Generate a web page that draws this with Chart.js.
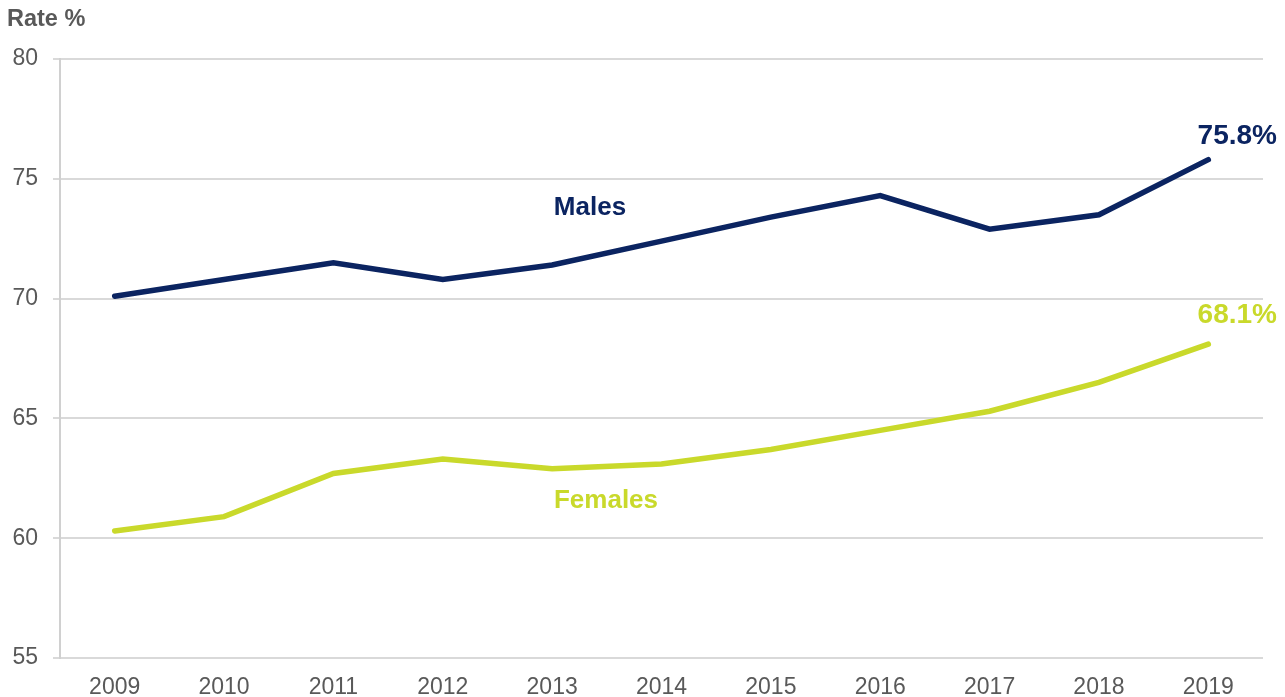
<!DOCTYPE html>
<html>
<head>
<meta charset="utf-8">
<script src="https://cdn.jsdelivr.net/npm/chart.js@4"></script>
<style>
html,body{margin:0;padding:0;background:#fff;}
#wrap{width:1285px;height:697px;position:relative;}
</style>
</head>
<body>
<div id="wrap"><canvas id="c" width="1285" height="697"></canvas></div>
<script>
const years = ['2009','2010','2011','2012','2013','2014','2015','2016','2017','2018','2019'];
const males = [70.1, 70.8, 71.5, 70.8, 71.4, 72.4, 73.4, 74.3, 72.9, 73.5, 75.8];
const females = [60.3, 60.9, 62.7, 63.3, 62.9, 63.1, 63.7, 64.5, 65.3, 66.5, 68.1];
const yTicks = [55, 60, 65, 70, 75, 80];

const NAVY = '#0b2461';
const LIME = '#c9d92b';
const GREY = '#595959';
const FONT = 'Arial, "Liberation Sans", sans-serif';

const annotate = {
  id: 'annotate',
  afterDatasetsDraw(chart) {
    const ctx = chart.ctx;
    const x = chart.scales.x, y = chart.scales.y;
    ctx.save();
    ctx.textBaseline = 'middle';
    ctx.textAlign = 'left';
    ctx.fillStyle = GREY;
    ctx.font = 'bold 23.5px ' + FONT;
    ctx.fillText('Rate %', 7, 20);

    ctx.textAlign = 'center';
    ctx.font = 'bold 26px ' + FONT;
    ctx.fillStyle = NAVY;
    ctx.fillText('Males', 590, 208);
    ctx.fillStyle = LIME;
    ctx.fillText('Females', 606, 501);

    const last = years.length - 1;
    ctx.font = 'bold 28px ' + FONT;
    ctx.fillStyle = NAVY;
    ctx.fillText(males[last].toFixed(1) + '%', x.getPixelForValue(last) + 29, y.getPixelForValue(males[last]) - 23);
    ctx.fillStyle = LIME;
    ctx.fillText(females[last].toFixed(1) + '%', x.getPixelForValue(last) + 29, y.getPixelForValue(females[last]) - 29);
    ctx.restore();
  }
};

new Chart(document.getElementById('c'), {
  type: 'line',
  data: {
    labels: years,
    datasets: [
      { label: 'Males', data: males, borderColor: NAVY, backgroundColor: NAVY, borderWidth: 5.5, pointRadius: 0, tension: 0, borderCapStyle: 'round' },
      { label: 'Females', data: females, borderColor: LIME, backgroundColor: LIME, borderWidth: 5.5, pointRadius: 0, tension: 0, borderCapStyle: 'round' }
    ]
  },
  options: {
    responsive: false,
    animation: false,
    layout: { padding: { left: 0, right: 22, top: 59, bottom: 0 } },
    plugins: { legend: { display: false }, tooltip: { enabled: false } },
    scales: {
      x: {
        offset: true,
        grid: { display: false, drawTicks: false },
        border: { display: false },
        ticks: { color: GREY, font: { family: FONT, size: 23 }, padding: 16, maxRotation: 0, autoSkip: false },
        afterFit(s) { s.height = 39; }
      },
      y: {
        min: 55, max: 80,
        afterBuildTicks(s) { s.ticks = yTicks.map(v => ({ value: v })); },
        grid: { color: '#d9d9d9', lineWidth: 2, tickLength: 7, drawTicks: true },
        border: { display: true, color: '#d0d0d0', width: 2 },
        ticks: { color: GREY, font: { family: FONT, size: 23 }, padding: 15 },
        afterFit(s) { s.width = 60; }
      }
    }
  },
  plugins: [annotate]
});
</script>
</body>
</html>
